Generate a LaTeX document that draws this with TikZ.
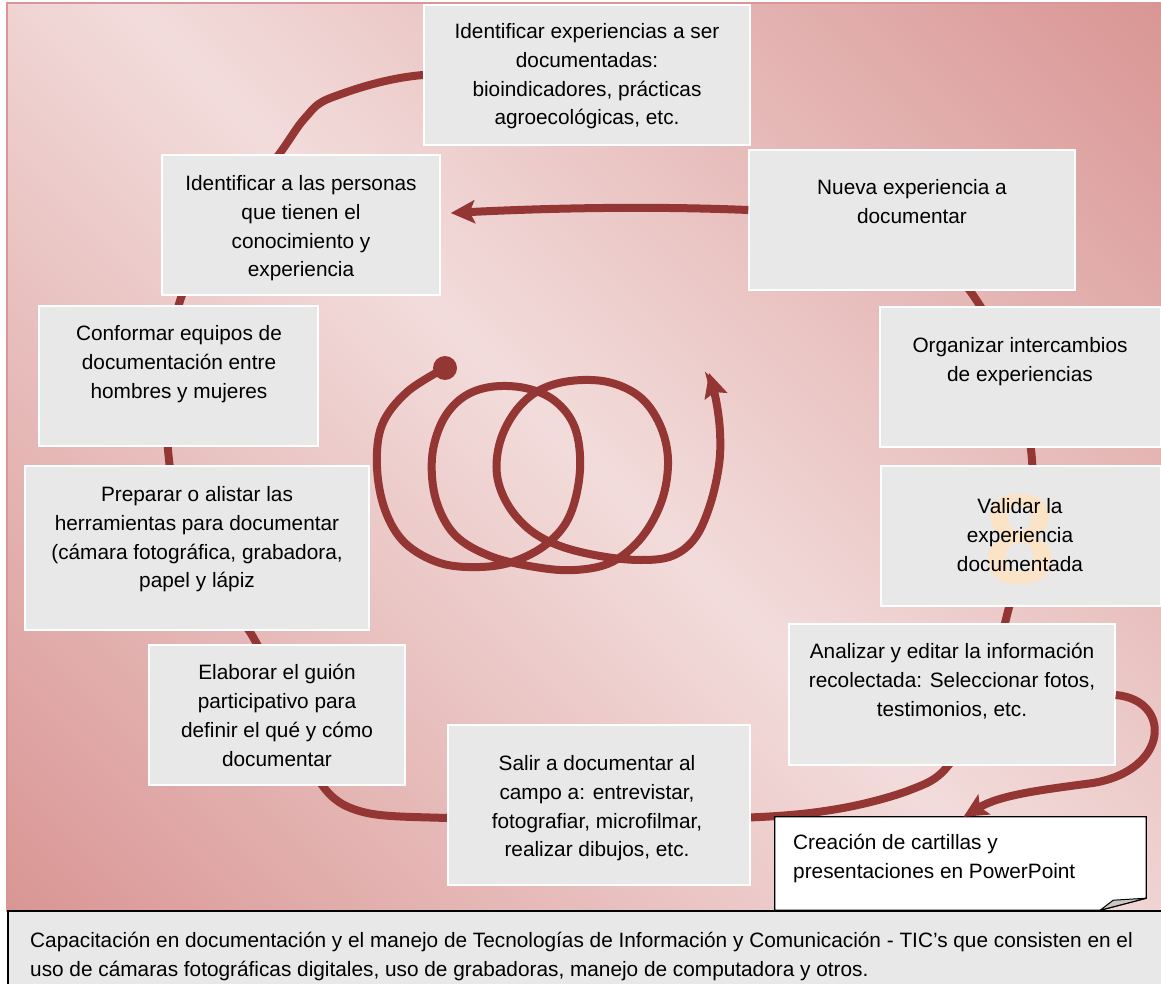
\documentclass[tikz,border=0pt]{standalone}
\usepackage{fontspec}
\setmainfont{Liberation Sans}
\usetikzlibrary{arrows.meta,calc}
\definecolor{bgdark}{HTML}{D99694}
\definecolor{bglight}{HTML}{F2DCDB}
\definecolor{loopred}{HTML}{943634}
\definecolor{boxgray}{HTML}{E8E8E8}
\definecolor{peach}{HTML}{FBE3C8}
\definecolor{foldgray}{HTML}{C8C8C8}
\pgfdeclarehorizontalshading{bgshade}{100bp}{color(0bp)=(bgdark); color(14.6bp)=(bgdark); color(50bp)=(bglight); color(85.4bp)=(bgdark); color(100bp)=(bgdark)}
\tikzset{
  box/.style={draw=white, line width=1.5pt, fill=boxgray, inner sep=0pt},
  txt/.style={font=\fontsize{20.8}{28.9}\selectfont, align=center, inner sep=0pt, text=black},
  txtl/.style={font=\fontsize{20.8}{28.9}\selectfont, align=left, inner sep=0pt, text=black},
  cycline/.style={draw=loopred, line width=8pt},
  bigtip/.style={-{Stealth[length=24pt,width=23pt,inset=5pt]}}
}
\begin{document}
\begin{tikzpicture}[x=1pt,y=-1pt]
\useasboundingbox (0,0) rectangle (1161,984);
\fill[white] (0,0) rectangle (1161,984);
% background
\path[shading=bgshade, shading angle=45] (7,3) rectangle (1161,910);
\draw[bgdark, line width=2.5pt] (1170,3) -- (7,3) -- (7,912);

% big cycle curve (behind the boxes)
\node[box, minimum width=326pt, minimum height=140pt] (b1) at (587,75) {};
\node[box, minimum width=326pt, minimum height=140pt] (b2) at (912,220) {};
\path (b1.center) coordinate (cs) (b2.center) coordinate (ce);
\draw[cycline] plot[smooth, tension=0.55] coordinates {
 (cs) (423,75) (333,97) (305,118) (277,157) (225,222) (182,295) (168,375)
 (168,450) (182,525) (220,592) (253,637) (290,712) (322,785) (363,812)
 (447,818) (600,820) (760,817) (843,808) (910,790) (947,767) (985,700)
 (1007,615) (1027,535) (1032,460) (1015,375) (975,298) (ce)};

% spiral
\fill[loopred] (445,368) circle (12pt);
\draw[draw=loopred, line width=8pt, -{Stealth[length=24pt,width=23pt,inset=4pt]}] plot[smooth, tension=0.6] coordinates {
 (445,368) (407,392) (382,425) (377,467) (385,510) (405,543) (440,563)
 (480,567) (515,561) (548,543) (570,515) (580,470) (575,428) (555,401)
 (525,388) (490,387) (462,398) (442,422) (432,458) (436,500) (455,535)
 (490,556) (535,567) (575,570) (612,562) (642,537) (662,500) (668,460)
 (660,425) (640,397) (608,382) (570,381) (538,391) (515,412) (500,442)
 (497,475) (508,505) (530,530) (560,546) (600,556) (640,560) (672,556)
 (695,538) (710,505) (719,465) (720,432) (716,400) (709,373)};

% boxes
\node[box, minimum width=326pt, minimum height=140pt] at (b1) {};
\node[box, minimum width=326pt, minimum height=140pt] at (b2) {};
\node[box, minimum width=278pt, minimum height=140pt] (b3) at (301,225) {};
\node[box, minimum width=281pt, minimum height=140pt] (b4) at (1020.5,377) {};
\node[box, minimum width=279pt, minimum height=140pt] (b5) at (178.5,376) {};
\node[box, minimum width=280pt, minimum height=140pt] (b6) at (1021,536) {};
\node[box, minimum width=344pt, minimum height=164pt] (b7) at (197,548) {};
\node[box, minimum width=326pt, minimum height=141pt] (b8) at (952,694.5) {};
\node[box, minimum width=256pt, minimum height=140pt] (b9) at (277,715) {};
\node[box, minimum width=302pt, minimum height=160pt] (b10) at (599,805) {};

% arrow from "Nueva experiencia" to "Identificar a las personas"
\draw[cycline, bigtip] (b2.west |- 0,210) .. controls (650,206) and (550,208) .. ($(b3.east |- 0,213)+(10,0)$);

% big 8 behind Validar text
\node[font=\fontsize{128}{128}\selectfont\bfseries, text=peach, inner sep=0pt] (eight) at (1020,539) {8};

% texts
\node[txt, anchor=north] (t1) at (587,23) {Identificar experiencias a ser\\documentadas:\\bioindicadores, prácticas\\agroecológicas, etc.};
\node[txt, anchor=north] (t2) at (912,179) {Nueva experiencia a\\documentar};
\node[txt, anchor=north] (t3) at (301,175) {Identificar a las personas\\que tienen el\\conocimiento y\\experiencia};
\node[txt, anchor=north] (t4) at (1020,337) {Organizar intercambios\\de experiencias};
\node[txt, anchor=north] (t5) at (179,325) {Conformar equipos de\\documentación entre\\hombres y mujeres};
\node[txt, anchor=north] (t6) at (1020,498) {Validar la\\experiencia\\documentada};
\node[txt, anchor=north] (t7) at (197,486) {Preparar o alistar las\\herramientas para documentar\\(cámara fotográfica, grabadora,\\papel y lápiz};
\node[txt, anchor=north] (t8) at (952,643) {Analizar y editar la información\\recolectada: Seleccionar fotos,\\testimonios, etc.};
\node[txt, anchor=north] (t9) at (277,664) {Elaborar el guión\\participativo para\\definir el qué y cómo\\documentar};
\node[txt, anchor=north] (t10) at (597,755) {Salir a documentar al\\campo a: entrevistar,\\fotografiar, microfilmar,\\realizar dibujos, etc.};

% callout with folded corner
\node[draw=none, minimum width=371pt, minimum height=93pt, inner sep=0pt] (co) at (960.5,863.5) {};
\draw[black, line width=1.3pt, fill=white] (co.north west) -- (co.north east) -- ($(co.south east)+(0,-12)$) -- ($(co.south east)+(-46,0)$) -- (co.south west) -- cycle;
\draw[black, line width=1pt, fill=foldgray] ($(co.south east)+(0,-12)$) -- ($(co.south east)+(-33,-10)$) -- ($(co.south east)+(-46,0)$) -- cycle;
\node[txtl, anchor=north west] (tc) at (793,834) {Creación de cartillas y\\presentaciones en PowerPoint};

% arrow from "Analizar" box to callout
\draw[cycline, bigtip] (b8.east |- 0,695) .. controls (1172,700) and (1170,770) .. (1093,783) .. controls (1040,790) and (1000,795) .. ($(co.north)+(3,0)$);

% bottom box
\node[draw=black, line width=1.5pt, fill=boxgray, minimum width=1170pt, minimum height=90pt, anchor=north west] (bt) at (7,910) {};
\node[txtl, anchor=north west] (tb) at (30,932) {Capacitación en documentación y el manejo de Tecnologías de Información y Comunicación - TIC’s que consisten en el\\uso de cámaras fotográficas digitales, uso de grabadoras, manejo de computadora y otros.};
\end{tikzpicture}
\end{document}
